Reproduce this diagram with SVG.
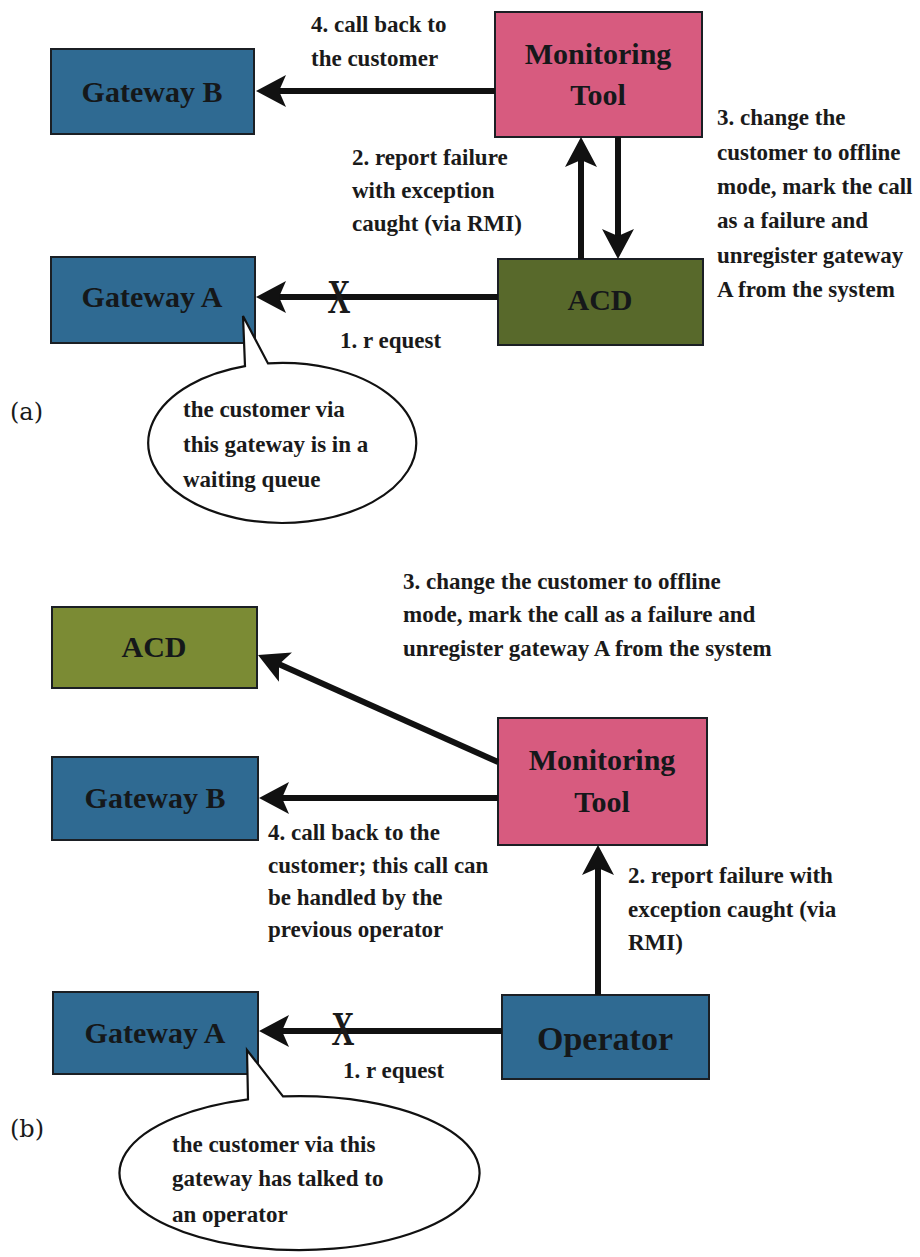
<svg xmlns="http://www.w3.org/2000/svg" width="920" height="1257" viewBox="0 0 920 1257">
  <style>
    .box { stroke: #1b1f24; stroke-width: 2; }
    .gw { fill: #2f6a92; }
    .mon { fill: #d75b7f; }
    .acdA { fill: #58692b; }
    .acdB { fill: #7b8b34; }
    .nlabel { font-family: "Liberation Serif", "Times New Roman", serif; font-weight: bold; font-size: 30px; fill: #15181a; text-anchor: middle; }
    .lbl { font-family: "Liberation Serif", "Times New Roman", serif; font-weight: bold; font-size: 23px; fill: #1a1a1a; }
    .cap { font-family: "DejaVu Serif", serif; font-size: 24px; fill: #1a1a1a; }
    .xmark { font-family: "Liberation Serif", serif; font-weight: bold; font-size: 48px; fill: #1a1a1a; text-anchor: middle; }
    .conn { stroke: #111; stroke-width: 6; fill: none; marker-end: url(#head); }
    .callout { fill: #fff; stroke: #111; stroke-width: 2.2; }
  </style>
  <defs>
    <marker id="head" markerUnits="userSpaceOnUse" markerWidth="40" markerHeight="40" viewBox="-40 -20 40 40" refX="-20" refY="0" orient="auto" overflow="visible">
      <path d="M0,0 L-30,-16 L-23,0 L-30,16 Z" fill="#111"/>
    </marker>
  </defs>
  <rect width="920" height="1257" fill="#fff"/>

  <!-- ===== (a) ===== -->
  <g id="a-gateway-b">
    <rect class="box gw" x="51" y="49" width="203" height="85"/>
    <text class="nlabel" x="152" y="102">Gateway B</text>
  </g>
  <g id="a-gateway-a">
    <rect class="box gw" x="51" y="257" width="204" height="86"/>
    <text class="nlabel" x="152" y="307">Gateway A</text>
  </g>
  <g id="a-monitoring-tool">
    <rect class="box mon" x="495" y="12" width="207" height="125"/>
    <text class="nlabel" x="598" y="64">Monitoring</text>
    <text class="nlabel" x="598" y="105">Tool</text>
  </g>
  <g id="a-acd">
    <rect class="box acdA" x="498" y="259" width="205" height="86"/>
    <text class="nlabel" x="600" y="310">ACD</text>
  </g>

  <g id="a-connectors">
    <line class="conn" x1="495" y1="91" x2="276" y2="91"/>
    <line class="conn" x1="498" y1="297" x2="276" y2="297"/>
    <line class="conn" x1="581" y1="259" x2="581" y2="157"/>
    <line class="conn" x1="618" y1="137" x2="618" y2="239"/>
    <text class="xmark" transform="translate(339,313) scale(0.66,1)" x="0" y="0">X</text>
  </g>

  <g id="a-labels">
    <text class="lbl" x="311" y="32">4. call back to</text>
    <text class="lbl" x="311" y="66">the customer</text>
    <text class="lbl" x="352" y="165">2. report failure</text>
    <text class="lbl" x="352" y="198">with exception</text>
    <text class="lbl" x="352" y="231">caught (via RMI)</text>
    <text class="lbl" x="717" y="125">3. change the</text>
    <text class="lbl" x="717" y="160">customer to offline</text>
    <text class="lbl" x="717" y="194">mode, mark the call</text>
    <text class="lbl" x="717" y="228">as a failure and</text>
    <text class="lbl" x="717" y="263">unregister gateway</text>
    <text class="lbl" x="717" y="297">A from the system</text>
    <text class="lbl" x="340" y="348">1. r equest</text>
    <text class="cap" x="10" y="420">(a)</text>
  </g>

  <g id="a-callout">
    <path class="callout" d="M245,366.1 L243,316 L268,363.4 A134,80 0 1 1 245,366.1 Z"/>
    <text class="lbl" x="183" y="417">the customer via</text>
    <text class="lbl" x="183" y="452">this gateway is in a</text>
    <text class="lbl" x="183" y="487">waiting queue</text>
  </g>

  <!-- ===== (b) ===== -->
  <g id="b-acd">
    <rect class="box acdB" x="52" y="607" width="205" height="81"/>
    <text class="nlabel" x="154" y="657">ACD</text>
  </g>
  <g id="b-gateway-b">
    <rect class="box gw" x="52" y="757" width="206" height="83"/>
    <text class="nlabel" x="155" y="808">Gateway B</text>
  </g>
  <g id="b-monitoring-tool">
    <rect class="box mon" x="498" y="718" width="209" height="127"/>
    <text class="nlabel" x="602" y="770">Monitoring</text>
    <text class="nlabel" x="602" y="812">Tool</text>
  </g>
  <g id="b-gateway-a">
    <rect class="box gw" x="53" y="992" width="205" height="82"/>
    <text class="nlabel" x="155" y="1043">Gateway A</text>
  </g>
  <g id="b-operator">
    <rect class="box gw" x="502" y="995" width="207" height="84"/>
    <text class="nlabel" x="605" y="1050" style="font-size:34px">Operator</text>
  </g>

  <g id="b-connectors">
    <line class="conn" x1="498" y1="762" x2="276.3" y2="663.1"/>
    <line class="conn" x1="498" y1="798" x2="279" y2="798"/>
    <line class="conn" x1="502" y1="1031" x2="279" y2="1031"/>
    <line class="conn" x1="598" y1="995" x2="598" y2="865"/>
    <text class="xmark" transform="translate(343,1045) scale(0.66,1)" x="0" y="0">X</text>
  </g>

  <g id="b-labels">
    <text class="lbl" x="403" y="589">3. change the customer to offline</text>
    <text class="lbl" x="403" y="622">mode, mark the call as a failure and</text>
    <text class="lbl" x="403" y="656">unregister gateway A from the system</text>
    <text class="lbl" x="268" y="840">4. call back to the</text>
    <text class="lbl" x="268" y="873">customer; this call can</text>
    <text class="lbl" x="268" y="905">be handled by the</text>
    <text class="lbl" x="268" y="937">previous operator</text>
    <text class="lbl" x="628" y="883">2. report failure with</text>
    <text class="lbl" x="628" y="917">exception caught (via</text>
    <text class="lbl" x="628" y="950">RMI)</text>
    <text class="lbl" x="343" y="1078">1. r equest</text>
    <text class="cap" x="10" y="1137">(b)</text>
  </g>

  <g id="b-callout">
    <path class="callout" d="M248,1099.3 L247,1050 L283,1096.4 A180,77 0 1 1 248,1099.3 Z"/>
    <text class="lbl" x="172" y="1152">the customer via this</text>
    <text class="lbl" x="172" y="1186">gateway has talked to</text>
    <text class="lbl" x="172" y="1222">an operator</text>
  </g>
</svg>
